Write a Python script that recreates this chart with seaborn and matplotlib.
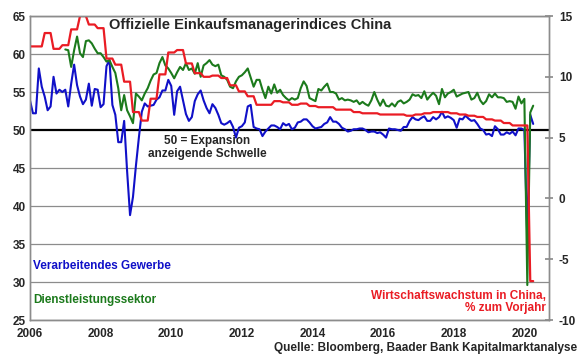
import numpy as np
import pandas as pd
import seaborn as sns
import matplotlib.pyplot as plt

# --- data ---
# NBS manufacturing PMI, monthly Jan 2006 - Apr 2020
manufacturing = [
    53.9, 52.2, 52.2, 58.1, 55.7, 54.4, 52.6, 53.1, 57.0, 54.8, 55.3, 55.0,  # 2006
    55.3, 53.1, 56.1, 58.6, 55.9, 54.4, 53.4, 54.0, 56.1, 53.2, 55.4, 55.3,  # 2007
    53.0, 53.4, 58.4, 59.2, 53.3, 52.0, 48.4, 48.4, 51.2, 44.6, 38.8, 41.2,  # 2008
    45.3, 49.0, 52.4, 53.5, 53.1, 53.2, 53.3, 54.0, 54.3, 55.2, 55.2, 56.6,  # 2009
    55.8, 52.0, 55.1, 55.7, 53.9, 52.1, 51.2, 51.7, 53.8, 54.7, 55.2, 53.9,  # 2010
    52.9, 52.2, 53.4, 52.9, 52.0, 50.9, 50.7, 50.9, 51.2, 50.4, 49.0, 50.3,  # 2011
    50.5, 51.0, 53.1, 53.3, 50.4, 50.2, 50.1, 49.2, 49.8, 50.2, 50.6, 50.6,  # 2012
    50.4, 50.1, 50.9, 50.6, 50.8, 50.1, 50.3, 51.0, 51.1, 51.4, 51.4, 51.0,  # 2013
    50.5, 50.2, 50.3, 50.4, 50.8, 51.0, 51.7, 51.1, 51.1, 50.8, 50.3, 50.1,  # 2014
    49.8, 49.9, 50.1, 50.1, 50.2, 50.2, 50.0, 49.7, 49.8, 49.8, 49.6, 49.7,  # 2015
    49.4, 49.0, 50.2, 50.1, 50.1, 50.0, 49.9, 50.4, 50.4, 51.2, 51.7, 51.4,  # 2016
    51.3, 51.6, 51.8, 51.2, 51.2, 51.7, 51.4, 51.7, 52.4, 51.6, 51.8, 51.6,  # 2017
    51.3, 50.3, 51.5, 51.4, 51.9, 51.5, 51.2, 51.3, 50.8, 50.2, 50.0, 49.4,  # 2018
    49.5, 49.2, 50.5, 50.1, 49.4, 49.4, 49.7, 49.5, 49.8, 49.3, 50.2, 50.2,  # 2019
    50.0, 35.7, 52.0, 50.8,                                                  # 2020
]

# NBS non-manufacturing PMI, monthly Jan 2007 - Apr 2020
services = [
    60.6, 60.5, 58.3, 60.5, 62.3, 60.1, 59.6, 61.7, 61.8, 61.4, 60.7, 60.1,  # 2007
    60.1, 59.6, 59.0, 59.2, 58.3, 57.5, 55.5, 52.6, 54.6, 52.6, 51.8, 50.9,  # 2008
    54.8, 54.4, 53.9, 54.8, 55.5, 56.5, 57.3, 57.5, 58.8, 59.6, 58.5, 58.1,  # 2009
    57.5, 56.8, 57.6, 58.3, 57.9, 58.8, 57.9, 58.1, 57.4, 58.8, 57.0, 58.5,  # 2010
    58.8, 59.2, 58.6, 58.4, 58.6, 57.2, 57.0, 56.6, 55.7, 55.5, 56.4, 57.0,  # 2011
    57.2, 57.6, 58.1, 56.9, 55.7, 56.6, 56.6, 55.3, 54.2, 55.7, 54.8, 56.0,  # 2012
    54.9, 55.3, 54.6, 54.2, 53.9, 54.2, 54.0, 54.2, 55.5, 56.4, 55.8, 54.2,  # 2013
    54.0, 53.8, 55.4, 55.2, 55.7, 56.1, 55.0, 55.0, 54.8, 54.0, 54.2, 53.9,  # 2014
    54.0, 53.9, 53.7, 53.9, 53.4, 53.7, 53.4, 53.2, 53.9, 55.0, 54.0, 53.2,  # 2015
    54.0, 53.2, 53.1, 53.5, 53.1, 53.7, 53.9, 53.5, 53.7, 54.0, 54.7, 54.5,  # 2016
    54.6, 54.2, 55.1, 54.0, 54.5, 54.9, 54.5, 53.4, 55.4, 54.3, 54.8, 55.0,  # 2017
    55.3, 54.4, 54.6, 54.8, 54.9, 55.0, 54.0, 54.2, 54.9, 53.9, 53.4, 53.8,  # 2018
    54.7, 54.3, 54.8, 54.3, 54.3, 54.2, 53.7, 53.8, 53.7, 52.8, 54.4, 53.5,  # 2019
    54.1, 29.6, 52.3, 53.2,                                                  # 2020
]

# real GDP growth, % y/y, quarterly 2005Q4 - 2020Q1
gdp_quarters = pd.period_range("2005Q4", "2020Q1", freq="Q")
gdp_growth = [
    12.5,
    12.5, 13.6, 12.3, 12.6,
    13.9, 15.0, 14.3, 14.0,
    11.5, 11.0, 9.6, 7.1,
    6.4, 8.2, 10.2, 12.0,
    12.2, 11.1, 10.3, 10.0,
    10.1, 9.9, 9.3, 8.8,
    8.4, 7.7, 7.7, 8.0,
    7.9, 7.7, 7.8, 7.6,
    7.5, 7.5, 7.3, 7.3,
    7.1, 7.0, 7.0, 6.9,
    6.9, 6.9, 6.8, 6.9,
    7.0, 7.1, 7.1, 7.0,
    6.9, 6.8, 6.7, 6.5,
    6.4, 6.2, 6.0, 6.0,
    -6.8,
]

year_ticks = list(range(2006, 2021, 2))
left_ticks = list(range(25, 66, 5))
right_ticks = list(range(-10, 16, 5))


def to_year(periods):
    return periods.year + (periods.month - 1) / 12.0


months = pd.period_range("2006-01", "2020-04", freq="M")
mfg = pd.DataFrame({"x": to_year(months), "pmi": manufacturing})
srv_months = pd.period_range("2007-01", "2020-04", freq="M")
srv = pd.DataFrame({"x": to_year(srv_months), "pmi": services})

# quarterly value shown from the quarter's last month on
gdp = pd.Series(gdp_growth, index=gdp_quarters.asfreq("M", how="end"))
gdp = gdp.reindex(pd.period_range("2005-12", "2020-04", freq="M")).ffill()
gdp = gdp.loc["2006-01":]
gdp_df = pd.DataFrame({"x": to_year(gdp.index), "gdp": gdp.values})

# --- plot ---
sns.set_theme(style="white")
plt.rcParams["font.family"] = ["Liberation Sans", "DejaVu Sans"]
plt.rcParams["font.weight"] = "bold"
plt.rcParams["axes.unicode_minus"] = False

BLUE = "#1010c8"
GREEN = "#1c7a1c"
RED = "#ea1c24"
GRAY = "#8c8c8c"

fig = plt.figure(figsize=(5.8, 3.59), dpi=100)
ax = fig.add_axes([0.0517, 0.1086, 0.895, 0.8468])

for v in left_ticks:
    if v != 50:
        ax.axhline(v, color=GRAY, lw=0.9, zorder=0)
ax.axhline(50, color="black", lw=1.6, zorder=1)

sns.lineplot(data=mfg, x="x", y="pmi", color=BLUE, lw=1.5, errorbar=None, ax=ax, zorder=2)
sns.lineplot(data=srv, x="x", y="pmi", color=GREEN, lw=1.5, errorbar=None, ax=ax, zorder=3)

ax.set_xlim(2006, 2020.7)
ax.set_ylim(25, 65)
ax.set_xticks(year_ticks)
ax.set_yticks(left_ticks)
ax.set_xlabel("")
ax.set_ylabel("")
ax.tick_params(axis="y", length=0, labelsize=8.5, pad=3)
ax.tick_params(axis="x", length=0, labelsize=8.5, pad=6)
for lab in ax.get_xticklabels() + ax.get_yticklabels():
    lab.set_fontweight("bold")

ax2 = ax.twinx()
sns.lineplot(data=gdp_df, x="x", y="gdp", color=RED, lw=1.6, errorbar=None, ax=ax2)
ax2.set_ylim(-10, 15)
ax2.set_yticks(right_ticks)
ax2.set_ylabel("")
ax2.tick_params(axis="y", direction="inout", length=6, color=GRAY, labelsize=8.5, pad=4)
for lab in ax2.get_yticklabels():
    lab.set_fontweight("bold")

for a in (ax, ax2):
    for side, sp in a.spines.items():
        sp.set_color(GRAY)
        sp.set_linewidth(1.0)

fig.text(0.431, 0.930, "Offizielle Einkaufsmanagerindices China", ha="center", va="center",
         fontsize=10.5, fontweight="bold")
fig.text(0.357, 0.590, "50 = Expansion\nanzeigende Schwelle", ha="center", va="center",
         fontsize=8.5, fontweight="bold", linespacing=1.1)
fig.text(0.057, 0.259, "Verarbeitendes Gewerbe", ha="left", va="center",
         fontsize=8.5, fontweight="bold", color=BLUE)
fig.text(0.057, 0.164, "Dienstleistungssektor", ha="left", va="center",
         fontsize=8.5, fontweight="bold", color=GREEN)
fig.text(0.941, 0.159, "Wirtschaftswachstum in China,\n% zum Vorjahr", ha="right", va="center",
         fontsize=8.5, fontweight="bold", color=RED, linespacing=1.05)
fig.text(0.995, 0.031, "Quelle: Bloomberg, Baader Bank Kapitalmarktanalyse", ha="right", va="center",
         fontsize=8.5, fontweight="bold")

fig.savefig("out.png", dpi=100)
